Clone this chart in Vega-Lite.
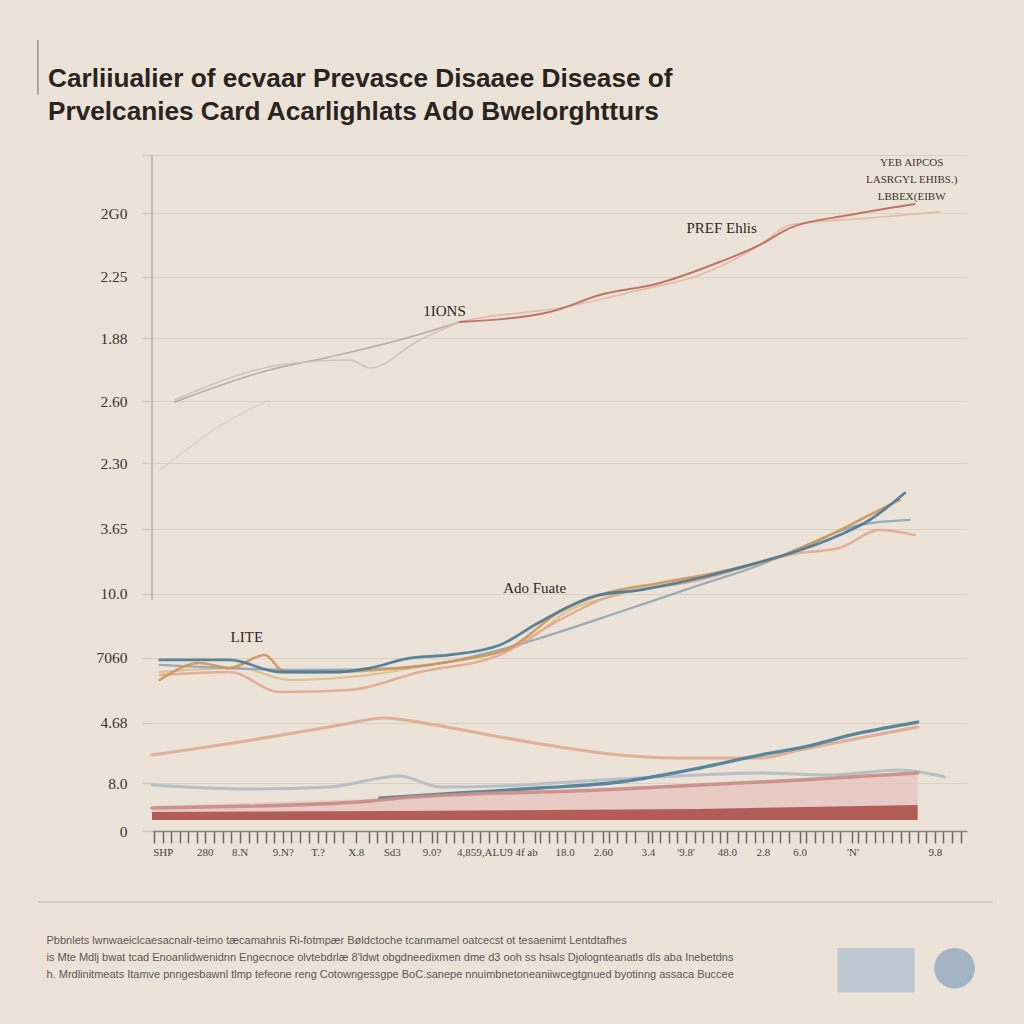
{
  "$schema": "https://vega.github.io/schema/vega-lite/v6.json",
  "autosize": {"type": "none"},
  "padding": {"left": 152, "top": 155, "right": 57, "bottom": 193},
  "width": 815,
  "height": 676,
  "background": "#ebe3d8",
  "config": {"view": {"stroke": null}},
  "title": {
    "text": ["Carliiualier of ecvaar Prevasce Disaaee Disease of", "Prvelcanies Card Acarlighlats Ado Bwelorghtturs"],
    "anchor": "start", "frame": "group", "dx": -104, "offset": -86,
    "font": "Liberation Sans", "fontSize": 26.2, "fontWeight": "bold",
    "color": "#2a2420", "lineHeight": 33
  },
  "datasets": {
    "one": [{"k": 1}],
    "series": [
      {"s": "ghost", "x": -0.07, "y": 53.4}, {"s": "ghost", "x": 1.56, "y": 60.8}, {"s": "ghost", "x": 2.49, "y": 63.76},
      {"s": "upGrey", "x": 0.28, "y": 63.46}, {"s": "upGrey", "x": 2.49, "y": 68.2}, {"s": "upGrey", "x": 3.89, "y": 70.12}, {"s": "upGrey", "x": 5.52, "y": 72.63}, {"s": "upGrey", "x": 6.92, "y": 75.3},
      {"s": "upGrey2", "x": 0.28, "y": 63.76}, {"s": "upGrey2", "x": 2.73, "y": 68.93}, {"s": "upGrey2", "x": 4.36, "y": 69.67}, {"s": "upGrey2", "x": 4.83, "y": 68.49}, {"s": "upGrey2", "x": 5.99, "y": 72.63}, {"s": "upGrey2", "x": 6.92, "y": 75.3},
      {"s": "pref2", "x": 6.92, "y": 75.3}, {"s": "pref2", "x": 7.39, "y": 75.89}, {"s": "pref2", "x": 9.25, "y": 77.37}, {"s": "pref2", "x": 11.12, "y": 80.03}, {"s": "pref2", "x": 12.52, "y": 82.25}, {"s": "pref2", "x": 13.92, "y": 86.69}, {"s": "pref2", "x": 14.62, "y": 89.64}, {"s": "pref2", "x": 16.48, "y": 90.68}, {"s": "pref2", "x": 18.11, "y": 91.57},
      {"s": "pref1", "x": 6.92, "y": 75.3}, {"s": "pref1", "x": 9.02, "y": 76.78}, {"s": "pref1", "x": 10.19, "y": 79.29}, {"s": "pref1", "x": 11.59, "y": 81.07}, {"s": "pref1", "x": 12.98, "y": 84.17}, {"s": "pref1", "x": 13.92, "y": 86.69}, {"s": "pref1", "x": 14.62, "y": 89.2}, {"s": "pref1", "x": 16.01, "y": 91.12}, {"s": "pref1", "x": 17.53, "y": 92.75},
      {"s": "tan", "x": -0.07, "y": 23.52}, {"s": "tan", "x": 1.79, "y": 24.11}, {"s": "tan", "x": 2.96, "y": 22.34}, {"s": "tan", "x": 4.59, "y": 22.93}, {"s": "tan", "x": 6.22, "y": 24.56}, {"s": "tan", "x": 8.32, "y": 27.51}, {"s": "tan", "x": 9.49, "y": 32.69}, {"s": "tan", "x": 10.65, "y": 34.91},
      {"s": "greyblue", "x": -0.07, "y": 24.56}, {"s": "greyblue", "x": 3.19, "y": 23.82}, {"s": "greyblue", "x": 5.52, "y": 24.11}, {"s": "greyblue", "x": 7.86, "y": 26.78}, {"s": "greyblue", "x": 9.25, "y": 29.44}, {"s": "greyblue", "x": 10.65, "y": 32.4}, {"s": "greyblue", "x": 12.52, "y": 36.39}, {"s": "greyblue", "x": 13.92, "y": 39.35}, {"s": "greyblue", "x": 14.85, "y": 41.86}, {"s": "greyblue", "x": 16.25, "y": 45.27}, {"s": "greyblue", "x": 17.41, "y": 46.01},
      {"s": "salmon", "x": -0.07, "y": 23.08}, {"s": "salmon", "x": 1.56, "y": 23.52}, {"s": "salmon", "x": 2.73, "y": 20.56}, {"s": "salmon", "x": 4.36, "y": 20.86}, {"s": "salmon", "x": 5.99, "y": 23.52}, {"s": "salmon", "x": 7.86, "y": 26.04}, {"s": "salmon", "x": 9.25, "y": 31.21}, {"s": "salmon", "x": 10.19, "y": 34.17}, {"s": "salmon", "x": 12.52, "y": 37.13}, {"s": "salmon", "x": 14.85, "y": 41.12}, {"s": "salmon", "x": 15.78, "y": 41.86}, {"s": "salmon", "x": 16.71, "y": 44.53}, {"s": "salmon", "x": 17.53, "y": 43.79},
      {"s": "orange", "x": -0.07, "y": 22.34}, {"s": "orange", "x": 0.86, "y": 24.85}, {"s": "orange", "x": 1.56, "y": 24.11}, {"s": "orange", "x": 2.38, "y": 26.04}, {"s": "orange", "x": 2.84, "y": 23.52}, {"s": "orange", "x": 3.89, "y": 23.52}, {"s": "orange", "x": 5.52, "y": 24.11}, {"s": "orange", "x": 6.92, "y": 25.3}, {"s": "orange", "x": 8.09, "y": 27.07}, {"s": "orange", "x": 9.25, "y": 32.4}, {"s": "orange", "x": 10.19, "y": 34.91}, {"s": "orange", "x": 11.59, "y": 36.69}, {"s": "orange", "x": 12.98, "y": 38.31}, {"s": "orange", "x": 14.62, "y": 41.12}, {"s": "orange", "x": 15.31, "y": 43.05}, {"s": "orange", "x": 16.48, "y": 46.75}, {"s": "orange", "x": 17.18, "y": 48.96},
      {"s": "blue", "x": -0.07, "y": 25.3}, {"s": "blue", "x": 1.56, "y": 25.3}, {"s": "blue", "x": 2.73, "y": 23.52}, {"s": "blue", "x": 4.13, "y": 23.52}, {"s": "blue", "x": 4.83, "y": 24.11}, {"s": "blue", "x": 5.76, "y": 25.59}, {"s": "blue", "x": 6.69, "y": 26.04}, {"s": "blue", "x": 7.86, "y": 27.51}, {"s": "blue", "x": 8.79, "y": 30.92}, {"s": "blue", "x": 10.07, "y": 34.76}, {"s": "blue", "x": 11.12, "y": 35.65}, {"s": "blue", "x": 12.52, "y": 37.43}, {"s": "blue", "x": 13.92, "y": 39.79}, {"s": "blue", "x": 14.73, "y": 41.27}, {"s": "blue", "x": 15.78, "y": 43.79}, {"s": "blue", "x": 16.48, "y": 46.01}, {"s": "blue", "x": 17.3, "y": 50.0},
      {"s": "lowGrey", "x": -0.25, "y": 6.8}, {"s": "lowGrey", "x": 2.03, "y": 6.21}, {"s": "lowGrey", "x": 3.89, "y": 6.51}, {"s": "lowGrey", "x": 5.52, "y": 8.14}, {"s": "lowGrey", "x": 6.46, "y": 6.51}, {"s": "lowGrey", "x": 7.86, "y": 6.66}, {"s": "lowGrey", "x": 10.19, "y": 7.54}, {"s": "lowGrey", "x": 12.52, "y": 8.28}, {"s": "lowGrey", "x": 13.92, "y": 8.58}, {"s": "lowGrey", "x": 15.55, "y": 8.28}, {"s": "lowGrey", "x": 17.18, "y": 9.02}, {"s": "lowGrey", "x": 18.23, "y": 7.99},
      {"s": "lowSalmon", "x": -0.25, "y": 11.24}, {"s": "lowSalmon", "x": 1.79, "y": 13.17}, {"s": "lowSalmon", "x": 3.19, "y": 14.64}, {"s": "lowSalmon", "x": 4.13, "y": 15.68}, {"s": "lowSalmon", "x": 5.17, "y": 16.72}, {"s": "lowSalmon", "x": 6.22, "y": 15.83}, {"s": "lowSalmon", "x": 7.86, "y": 13.91}, {"s": "lowSalmon", "x": 9.25, "y": 12.43}, {"s": "lowSalmon", "x": 10.65, "y": 11.24}, {"s": "lowSalmon", "x": 12.05, "y": 10.8}, {"s": "lowSalmon", "x": 13.92, "y": 10.8}, {"s": "lowSalmon", "x": 14.85, "y": 11.98}, {"s": "lowSalmon", "x": 16.25, "y": 13.76}, {"s": "lowSalmon", "x": 17.6, "y": 15.38},
      {"s": "lowBlue", "x": 5.06, "y": 4.88}, {"s": "lowBlue", "x": 6.92, "y": 5.62}, {"s": "lowBlue", "x": 8.79, "y": 6.36}, {"s": "lowBlue", "x": 10.65, "y": 7.25}, {"s": "lowBlue", "x": 12.52, "y": 9.32}, {"s": "lowBlue", "x": 13.92, "y": 11.24}, {"s": "lowBlue", "x": 14.85, "y": 12.28}, {"s": "lowBlue", "x": 16.25, "y": 14.5}, {"s": "lowBlue", "x": 17.6, "y": 16.12},
      {"s": "areaTop", "x": -0.25, "y": 3.4}, {"s": "areaTop", "x": 4.59, "y": 4.3}, {"s": "areaTop", "x": 5.52, "y": 4.88}, {"s": "areaTop", "x": 10.19, "y": 6.07}, {"s": "areaTop", "x": 14.85, "y": 7.54}, {"s": "areaTop", "x": 17.6, "y": 8.58}
    ],
    "areas": [
      {"a": "pink", "x": -0.25, "y": 3.7}, {"a": "pink", "x": 5.52, "y": 4.88}, {"a": "pink", "x": 10.19, "y": 6.07}, {"a": "pink", "x": 14.85, "y": 7.54}, {"a": "pink", "x": 17.6, "y": 8.58},
      {"a": "red", "x": -0.25, "y": 2.81}, {"a": "red", "x": 5.52, "y": 2.96}, {"a": "red", "x": 12.52, "y": 3.25}, {"a": "red", "x": 17.6, "y": 3.85}
    ],
    "notes": [
      {"label": "LITE", "x": 1.96, "y": 28.7},
      {"label": "Ado Fuate", "x": 8.67, "y": 35.95},
      {"label": "1IONS", "x": 6.57, "y": 76.92},
      {"label": "PREF Ehlis", "x": 13.03, "y": 89.2}
    ]
  },
  "layer": [
    {
      "data": {"name": "areas"},
      "transform": [{"filter": "datum.a == 'pink'"}],
      "mark": {"type": "area", "color": "#e6c3be", "opacity": 0.75},
      "encoding": {
        "x": {"field": "x", "type": "quantitative", "scale": {"domain": [-0.25, 18.75], "nice": false, "zero": false},
          "axis": {
            "values": [-0.2,0,0.2,0.4,0.6,0.8,0.98,1.2,1.4,1.6,1.79,2,2.2,2.4,2.6,2.8,3,3.2,3.4,3.61,3.8,4,4.2,4.5,4.8,5,5.2,5.34,5.6,5.8,6,6.27,6.4,6.6,6.8,7,7.2,7.4,7.6,7.79,8,8.2,8.4,8.67,8.8,9,9.2,9.37,9.6,9.8,10,10.26,10.4,10.6,10.8,11,11.31,11.4,11.6,11.8,12,12.19,12.4,12.6,12.8,13,13.15,13.4,13.6,13.8,13.99,14.2,14.4,14.6,14.85,15,15.2,15.4,15.6,15.8,16.08,16.2,16.4,16.6,16.8,17,17.2,17.4,17.6,17.8,18,18.2,18.4,18.6],
            "tickCount": 1000,
            "labelExpr": "indexof([0,0.98,1.79,2.8,3.61,4.5,5.34,6.27,7.79,9.37,10.26,11.31,12.19,13.15,13.99,14.85,16.08,18], datum.value) >= 0 ? ['SHP','280','8.N','9.N?','T.?','X.8','Sd3','9.0?','4,859,ALU9 4f ab','18.0','2.60','3.4','\\'9.8\\'','48.0','2.8','6.0','\\'N\\'','9.8'][indexof([0,0.98,1.79,2.8,3.61,4.5,5.34,6.27,7.79,9.37,10.26,11.31,12.19,13.15,13.99,14.85,16.08,18], datum.value)] : ''",
            "labelOverlap": false, "labelBound": false, "labelFlush": false,
            "labelFont": "Liberation Serif", "labelFontSize": 11, "labelColor": "#4a433e", "labelPadding": 3,
            "tickSize": 12, "tickColor": "#6f665f", "tickWidth": 1.5,
            "domainColor": "#8a8078", "domainWidth": 1.5,
            "grid": false,
            "title": ["Pbbnlets lwnwaeiclcaesacnalr-teimo tæcamahnis Ri-fotmpær Bøldctoche tcanmamel oatcecst ot tesaenimt Lentdtafhes", "is Mte Mdlj bwat tcad Enoanlidwenidnn Engecnoce olvtebdrlæ 8'ldwt obgdneedixmen dme d3 ooh ss hsals Djolognteanatls dls aba Inebetdns", "h. Mrdlinitmeats Itamve pnngesbawnl tlmp tefeone reng Cotowngessgpe BoC.sanepe nnuimbnetoneaniiwcegtgnued byotinng assaca Buccee"],
            "titleAnchor": "start", "titleAlign": "left", "titleBaseline": "top", "titleX": -106, "titleY": 103,
            "titleFont": "Liberation Sans", "titleFontSize": 11, "titleFontWeight": "normal",
            "titleColor": "#5e5650", "titleLineHeight": 17
          }},
        "y": {"field": "y", "type": "quantitative", "scale": {"domain": [0, 100], "nice": false},
          "axis": {
            "values": [0, 7.1, 16, 25.6, 35.1, 44.7, 54.4, 63.6, 72.9, 82, 91.4, 100],
            "tickCount": 100,
            "labelExpr": "['0','8.0','4.68','7060','10.0','3.65','2.30','2.60','1.88','2.25','2G0',''][indexof([0, 7.1, 16, 25.6, 35.1, 44.7, 54.4, 63.6, 72.9, 82, 91.4, 100], datum.value)]",
            "grid": true, "gridColor": "#dad1c6", "gridWidth": 1.2,
            "domain": false, "tickColor": "#d2c8bc", "tickSize": 10, "tickWidth": 1.5,
            "labelFont": "Liberation Serif", "labelFontSize": 15.5, "labelColor": "#3b3531", "labelPadding": 15,
            "title": null
          }},
        "y2": {"datum": 1.63}
      }
    },
    {
      "data": {"name": "areas"},
      "transform": [{"filter": "datum.a == 'red'"}],
      "mark": {"type": "area", "color": "#a84a42", "opacity": 0.85},
      "encoding": {
        "x": {"field": "x", "type": "quantitative"},
        "y": {"field": "y", "type": "quantitative"},
        "y2": {"datum": 1.63}
      }
    },
    {
      "data": {"name": "one"},
      "mark": {"type": "rule", "color": "#b9afa5", "strokeWidth": 1.5},
      "encoding": {"x": {"datum": -0.25}, "y": {"datum": 34.2}, "y2": {"datum": 100}}
    },
    {
      "data": {"name": "one"},
      "mark": {"type": "rule", "color": "#bdb3a9", "strokeWidth": 1.2},
      "encoding": {"x": {"datum": -2.91}, "x2": {"datum": 19.35}, "y": {"datum": -10.5}}
    },
    {
      "data": {"name": "one"},
      "mark": {"type": "rule", "color": "#9a918a", "strokeWidth": 1.5},
      "encoding": {"x": {"datum": -2.91}, "y": {"datum": 108.9}, "y2": {"datum": 117}}
    },
    {
      "data": {"name": "series"},
      "mark": {"type": "line", "interpolate": "monotone", "opacity": 0.92, "strokeCap": "round"},
      "encoding": {
        "x": {"field": "x", "type": "quantitative"},
        "y": {"field": "y", "type": "quantitative"},
        "detail": {"field": "s"},
        "color": {"field": "s", "type": "nominal", "legend": null,
          "scale": {"domain": ["ghost","upGrey","upGrey2","pref2","pref1","tan","greyblue","salmon","orange","blue","lowGrey","lowSalmon","lowBlue","areaTop"],
                    "range": ["#d8cbc0","#b3a49d","#cfc0b7","#e0b7a8","#bd6a58","#d9bf8a","#92a6b6","#e2a990","#d0965a","#4a7c96","#b2bcc6","#deaa90","#4d7f98","#c98d86"]}},
        "strokeWidth": {"field": "s", "type": "nominal", "legend": null,
          "scale": {"domain": ["ghost","upGrey","upGrey2","pref2","pref1","tan","greyblue","salmon","orange","blue","lowGrey","lowSalmon","lowBlue","areaTop"],
                    "range": [1.2, 3.5, 2.5, 3, 3.5, 2, 2, 3, 2.5, 3, 2.5, 3.5, 3, 1.5]}}
      }
    },
    {
      "data": {"name": "notes"},
      "mark": {"type": "text", "font": "Liberation Serif", "fontSize": 15, "color": "#2f2925", "align": "center", "baseline": "middle"},
      "encoding": {
        "x": {"field": "x", "type": "quantitative"},
        "y": {"field": "y", "type": "quantitative"},
        "text": {"field": "label"}
      }
    },
    {
      "data": {"name": "one"},
      "mark": {"type": "text", "font": "Liberation Serif", "fontSize": 11, "color": "#3b3531", "align": "center", "baseline": "middle", "lineBreak": "|", "lineHeight": 17},
      "encoding": {"x": {"datum": 17.46}, "y": {"datum": 98.8}, "text": {"value": "YEB AIPCOS|LASRGYL EHIBS.)|LBBEX(EIBW"}}
    },
    {
      "data": {"name": "one"},
      "mark": {"type": "rect", "color": "#aebdcc", "opacity": 0.75},
      "encoding": {"x": {"datum": 15.73}, "x2": {"datum": 17.53}, "y": {"datum": -17.3}, "y2": {"datum": -23.9}}
    },
    {
      "data": {"name": "one"},
      "mark": {"type": "point", "shape": "circle", "filled": true, "color": "#9caec2", "size": 1650, "opacity": 0.9},
      "encoding": {"x": {"datum": 18.46}, "y": {"datum": -20.3}}
    }
  ]
}
